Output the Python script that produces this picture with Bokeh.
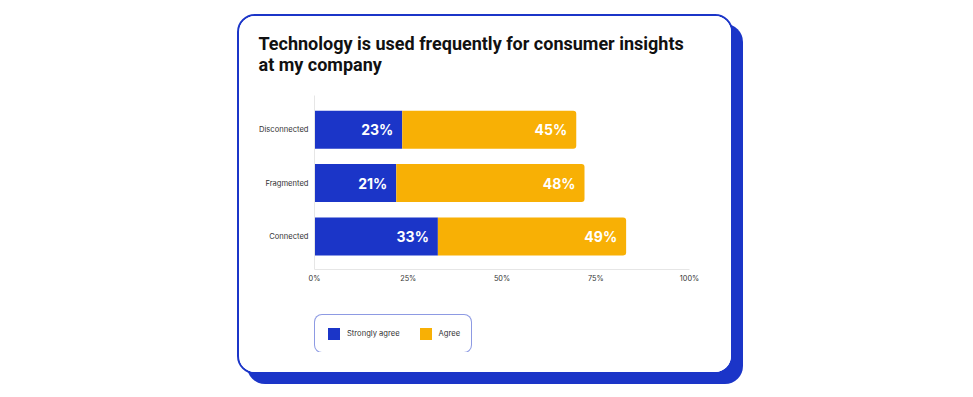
from bokeh.plotting import figure
from bokeh.layouts import column
from bokeh.models import FixedTicker, Legend, LegendItem, ColumnDataSource, Range1d
from bokeh.embed import file_html
from bokeh.resources import INLINE
from bokeh.core.properties import value

# ---- data ----
categories = ["Connected", "Fragmented", "Disconnected"]
strongly_agree = [32.9, 21.8, 23.4]          # bar lengths, %
agree = [50.2, 50.2, 46.4]                   # bar lengths, %
strongly_agree_labels = ["33%", "21%", "23%"]
agree_labels = ["49%", "48%", "45%"]
x_ticks = [0, 25, 50, 75, 100]
x_tick_labels = ["0%", "25%", "50%", "75%", "100%"]
series_names = ["Strongly agree", "Agree"]
title_text = "Technology is used frequently for consumer insights\nat my company"

BLUE = "#1b35c8"
ORANGE = "#f8b005"
FONT = "Inter"
TITLE_FONT = "Roboto"

ypos = list(range(len(categories)))
totals = [a + b for a, b in zip(strongly_agree, agree)]

src = ColumnDataSource(dict(
    y=ypos, sa=strongly_agree, total=totals,
    sa_label=strongly_agree_labels, ag_label=agree_labels,
))

SHIFT, TOP, FRAME_H, BOTTOM = 8, 87, 174, 25

# ---------------- main chart ----------------
p = figure(
    width=492, height=TOP + FRAME_H + BOTTOM,
    x_range=Range1d(0, 100), y_range=Range1d(-0.62, 2.64),
    output_backend="svg", toolbar_location=None,
    min_border_left=75, min_border_right=42, min_border_top=TOP, min_border_bottom=BOTTOM,
)
p.margin = (-SHIFT, 0, 0, 0)
p.outline_line_color = None
p.background_fill_color = "white"
p.border_fill_color = "white"
p.xgrid.visible = False
p.ygrid.visible = False

p.title.text = title_text
p.title.text_font = TITLE_FONT
p.title.text_font_size = "18px"
p.title.text_font_style = "bold"
p.title.text_color = "#111111"
p.title.align = "left"
p.title.offset = -56
p.title.standoff = 42
p.title.text_line_height = 1.0

p.xaxis.ticker = FixedTicker(ticks=x_ticks)
p.xaxis.major_label_overrides = dict(zip(x_ticks, x_tick_labels))
p.yaxis.ticker = FixedTicker(ticks=ypos)
p.yaxis.major_label_overrides = dict(zip(ypos, categories))
for ax in (p.xaxis, p.yaxis):
    ax.axis_line_color = "#e6e6e6"
    ax.axis_line_width = 1
    ax.major_tick_line_color = None
    ax.minor_tick_line_color = None
    ax.major_tick_out = 0
    ax.major_tick_in = 0
    ax.major_label_text_font = FONT
    ax.major_label_text_color = "#333333"
p.xaxis.major_label_text_font_size = "7.3px"
p.xaxis.major_label_standoff = 4
p.yaxis.major_label_text_font_size = "7.6px"
p.yaxis.major_label_standoff = 6

BAR_H = 0.713
p.hbar(y="y", left=0, right="sa", height=BAR_H, source=src,
       fill_color=BLUE, line_color=None)
p.hbar(y="y", left="sa", right="total", height=BAR_H, source=src,
       fill_color=ORANGE, line_color=None, border_radius=(0, 3, 3, 0))

for xcol, tcol in (("sa", "sa_label"), ("total", "ag_label")):
    p.text(x=xcol, y="y", text=tcol, source=src, x_offset=-9,
           text_align="right", text_baseline="middle", text_color="white",
           text_font=value(FONT), text_font_size="14px", text_font_style="bold")

# ---------------- legend strip ----------------
pl = figure(
    width=492, height=356 - (TOP - SHIFT + FRAME_H + BOTTOM),
    x_range=Range1d(200, 300), y_range=Range1d(10, 11),   # proxies lie outside view
    x_axis_type=None, y_axis_type=None,
    output_backend="svg", toolbar_location=None,
    min_border_left=75, min_border_right=42, min_border_top=20, min_border_bottom=20,
)
pl.outline_line_color = None
pl.background_fill_color = "white"
pl.border_fill_color = "white"
pl.xgrid.visible = False
pl.ygrid.visible = False
k1 = pl.hbar(y="y", left=0, right="sa", height=0, source=src,
             fill_color=BLUE, line_color=None, border_radius=2)
k2 = pl.hbar(y="y", left="sa", right="total", height=0, source=src,
             fill_color=ORANGE, line_color=None, border_radius=2)

legend = Legend(
    items=[LegendItem(label=series_names[0], renderers=[k1]),
           LegendItem(label=series_names[1], renderers=[k2])],
    location="top_left", orientation="horizontal",
    glyph_width=15, glyph_height=15, label_height=15,
    padding=11, spacing=18, label_standoff=6, margin=0,
    border_line_color=BLUE, border_line_width=1.8,
    label_text_font=FONT, label_text_font_size="7.6px", label_text_color="#333333",
    background_fill_color="white", background_fill_alpha=1,
)
if "border_radius" in Legend.properties():
    legend.border_radius = 8
pl.add_layout(legend)

card = column(p, pl, spacing=0)
card.margin = (14, 0, 0, 237)
card.styles = {
    "border": f"2px solid {BLUE}",
    "border-radius": "18px",
    "box-shadow": f"10px 10px 0 0 {BLUE}",
    "overflow": "hidden",
    "background": "white",
}

open("out.html", "w").write(file_html(card, INLINE))
